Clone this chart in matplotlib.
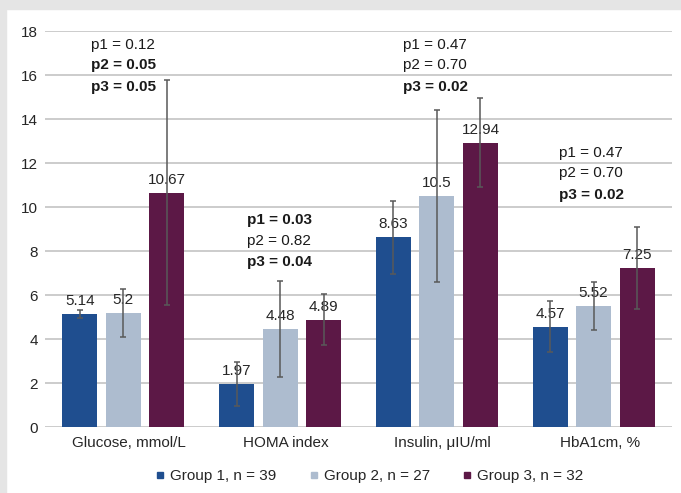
import matplotlib.pyplot as plt
import matplotlib.transforms as mtransforms
import numpy as np
from matplotlib.lines import Line2D
from matplotlib.patches import Rectangle

plt.rcParams['font.family'] = ['Liberation Sans', 'DejaVu Sans']

# data
categories = ["Glucose, mmol/L", "HOMA index", "Insulin, μIU/ml", "HbA1cm, %"]
groups = ["Group 1, n = 39", "Group 2, n = 27", "Group 3, n = 32"]
g1 = [5.14, 1.97, 8.63, 4.57]
g2 = [5.2, 4.48, 10.5, 5.52]
g3 = [10.67, 4.89, 12.94, 7.25]
g1_err = [0.18, 0.99, 1.65, 1.16]
g2_err = [1.1, 2.18, 3.9, 1.1]
g3_err = [5.12, 1.16, 2.03, 1.85]
g1_lbl = ["5.14", "1.97", "8.63", "4.57"]
g2_lbl = ["5.2", "4.48", "10.5", "5.52"]
g3_lbl = ["10.67", "4.89", "12.94", "7.25"]
colors = ["#1f4e8f", "#adbccf", "#5c1846"]

# p-values per category: (text, bold)
pvals = [
    [("p1 = 0.12", False), ("p2 = 0.05", True), ("p3 = 0.05", True)],
    [("p1 = 0.03", True), ("p2 = 0.82", False), ("p3 = 0.04", True)],
    [("p1 = 0.47", False), ("p2 = 0.70", False), ("p3 = 0.02", True)],
    [("p1 = 0.47", False), ("p2 = 0.70", False), ("p3 = 0.02", True)],
]
p_x = [-0.207, 0.789, 1.784, 2.779]
p_y = [[17.38, 16.47, 15.47], [9.42, 8.47, 7.51],
       [17.38, 16.47, 15.47], [12.47, 11.56, 10.56]]

fig = plt.figure(figsize=(6.81, 4.93), dpi=100)
fig.patches.append(Rectangle((0, 1 - 9 / 493), 1, 9 / 493, transform=fig.transFigure,
                             color="#e5e5e5", zorder=0))
fig.patches.append(Rectangle((0, 0), 6 / 681, 1, transform=fig.transFigure,
                             color="#e5e5e5", zorder=0))
ax = fig.add_axes([45 / 681, 1 - 427.3 / 493, 627 / 681, 396 / 493])
ax.set_facecolor("none")

x = np.arange(len(categories))
w = 0.223
off = 0.278
series = [(g1, g1_err, g1_lbl), (g2, g2_err, g2_lbl), (g3, g3_err, g3_lbl)]
for i, (vals, errs, lbls) in enumerate(series):
    xs = x + (i - 1) * off
    ax.bar(xs, vals, width=w, color=colors[i], zorder=2)
    ax.errorbar(xs, vals, yerr=errs, fmt="none", ecolor="#595959",
                elinewidth=1.1, capsize=2.5, capthick=1.1, zorder=4)
    for xx, v, t in zip(xs, vals, lbls):
        ax.annotate(t, (xx, v), xytext=(0, 9.4), textcoords="offset points",
                    ha="center", va="center", fontsize=11, color="#262626", zorder=3)

for ci in range(len(categories)):
    for (t, b), yy in zip(pvals[ci], p_y[ci]):
        ax.text(p_x[ci], yy, t, ha="left", va="center", fontsize=11,
                fontweight="bold" if b else "normal", color="#1a1a1a")

ax.set_xlim(-0.5, 3.5)
ax.set_ylim(0, 18)
ax.set_yticks(np.arange(0, 19, 2))
ax.set_xticks(x)
ax.set_xticklabels(categories)
ax.yaxis.grid(True, color="#bfbfbf", linewidth=1.1, zorder=0)
ax.set_axisbelow(True)
for s in ax.spines.values():
    s.set_visible(False)
ax.tick_params(axis="both", length=0, labelsize=11, labelcolor="#262626")
ax.tick_params(axis="y", pad=5)
ax.tick_params(axis="x", pad=6)

# category labels sit a little right of the group centre in the original
shift = mtransforms.ScaledTranslation(6 / 100, 0, fig.dpi_scale_trans)
for lab in ax.get_xticklabels():
    lab.set_transform(lab.get_transform() + shift)

handles = [Line2D([], [], marker="s", linestyle="none", markersize=4.5,
                  color=c) for c in colors]
fig.legend(handles, groups, loc="center", bbox_to_anchor=(370 / 681, 1 - 476 / 493),
           ncol=3, frameon=False, fontsize=11, handlelength=0.5,
           handletextpad=0.4, columnspacing=2.2, labelcolor="#262626")

fig.savefig("out.png", dpi=100)
